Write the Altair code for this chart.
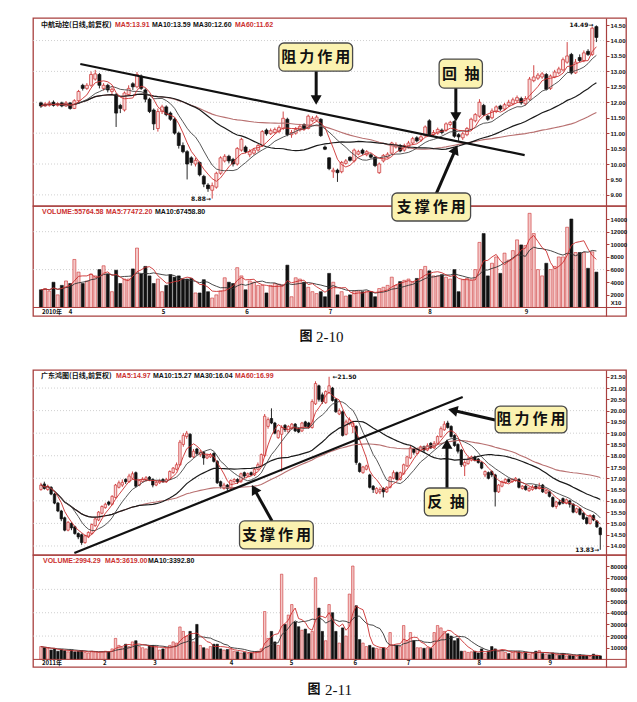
import altair as alt
import pandas as pd

FRAME = "#a8403f"
RED = "#cc3030"
UPFILL = "#f9d9d9"
BLACK = "#111111"
YEL = "#fbf2b0"
MA60C = "#b87070"
CJK = "Noto Sans CJK SC"
LAT = "Liberation Sans"

# ================= 图 2-10 中航动控 =================
open1 = [11.98,11.88,11.90,12.00,11.90,11.98,11.88,11.98,11.80,12.05,
         12.55,12.45,12.55,12.75,12.90,12.45,12.55,12.35,12.25,11.90,
         11.75,12.25,12.60,12.50,12.85,12.40,12.10,11.75,11.15,11.70,
         11.85,11.65,11.45,11.00,10.60,10.40,10.20,10.00,10.05,9.60,
         9.32,9.15,9.25,9.70,10.10,10.25,10.15,10.00,10.45,10.55,
         10.30,10.35,10.45,10.60,11.10,10.98,11.02,11.05,11.15,11.45,
         10.95,11.00,11.10,11.28,11.15,11.40,11.42,11.45,10.55,10.20,
         9.75,9.80,9.75,10.02,10.22,10.10,10.32,10.45,10.30,10.30,
         10.22,9.72,10.10,10.22,10.35,10.55,10.60,10.45,10.55,10.68,
         10.85,10.78,10.92,11.40,10.95,11.00,11.10,11.10,11.28,11.38,
         10.95,10.85,10.95,11.12,11.40,11.55,11.90,11.55,11.50,11.70,
         11.88,11.78,11.90,11.95,12.05,12.12,11.95,12.10,12.70,12.78,
         12.82,12.90,12.45,12.82,12.95,13.05,13.30,13.55,12.95,13.45,
         13.35,13.65,13.55,14.45]
close1 = [11.88,11.95,11.98,11.90,11.96,11.88,11.98,11.80,12.05,12.35,
          12.45,12.55,12.90,12.92,12.55,12.55,12.40,12.42,11.65,11.80,
          12.30,12.45,12.50,12.90,12.45,12.10,11.70,11.30,11.70,11.85,
          11.60,11.45,11.00,10.60,10.40,10.00,10.05,10.12,9.65,9.35,
          9.20,9.30,9.70,10.20,10.25,10.10,10.00,10.50,10.80,10.40,
          10.40,10.45,10.60,11.05,10.98,11.08,11.12,11.18,11.48,10.95,
          11.02,11.12,11.22,11.15,11.55,11.48,11.52,10.92,10.48,9.85,
          9.80,9.72,10.05,10.10,10.12,10.45,10.40,10.35,10.40,10.22,
          9.95,10.00,10.28,10.32,10.68,10.62,10.42,10.60,10.68,10.82,
          10.75,10.88,11.20,10.95,11.02,11.12,11.02,11.30,11.35,10.90,
          10.88,10.98,11.15,11.45,11.60,12.00,11.60,11.45,11.72,11.85,
          11.78,11.92,12.00,12.08,12.15,11.98,12.12,12.75,12.82,12.88,
          12.92,12.42,12.85,12.98,13.08,13.38,13.50,12.95,13.30,13.35,
          13.60,13.55,14.40,14.10]
high1 = [12.02,12.00,12.05,12.06,12.00,12.02,12.04,12.00,12.10,12.40,
         12.60,12.62,13.00,13.05,12.95,12.62,12.60,12.48,12.30,11.95,
         12.35,12.55,12.65,12.98,12.90,12.45,12.15,11.80,11.80,11.92,
         11.90,11.70,11.50,11.05,10.70,10.45,10.25,10.20,10.08,9.65,
         9.38,9.40,9.75,10.25,10.32,10.30,10.20,10.55,10.85,10.60,
         10.48,10.52,10.66,11.10,11.15,11.15,11.18,11.25,11.70,11.50,
         11.10,11.20,11.30,11.32,11.60,11.55,11.58,11.48,10.60,10.22,
         9.88,9.85,10.10,10.16,10.25,10.50,10.46,10.50,10.45,10.35,
         10.25,10.05,10.32,10.38,10.72,10.70,10.65,10.66,10.75,10.88,
         10.90,10.95,11.25,11.45,11.10,11.18,11.15,11.35,11.40,11.42,
         11.00,11.05,11.20,11.50,11.65,12.10,11.95,11.60,11.80,11.90,
         11.92,11.98,12.08,12.15,12.22,12.18,12.20,12.82,13.20,12.95,
         12.98,12.95,12.90,13.05,13.15,13.45,13.95,13.60,13.40,13.55,
         13.68,13.72,14.45,14.49]
low1 = [11.82,11.85,11.86,11.86,11.86,11.84,11.85,11.76,11.78,12.00,
        12.38,12.40,12.50,12.70,12.45,12.38,12.32,12.25,11.20,11.65,
        11.70,12.20,12.40,12.45,12.40,12.00,11.65,11.10,11.05,11.62,
        11.55,11.40,10.95,10.50,10.35,9.50,9.95,9.92,9.60,9.25,
        9.10,8.88,9.20,9.65,10.05,10.02,9.92,9.95,10.40,10.35,
        10.22,10.30,10.40,10.55,10.92,10.94,10.98,11.00,11.10,10.90,
        10.85,10.95,11.05,11.10,11.12,11.35,11.38,10.88,10.45,9.80,
        9.55,9.42,9.70,9.98,10.08,10.05,10.28,10.30,10.25,10.18,
        9.90,9.68,10.05,10.18,10.30,10.50,10.38,10.40,10.50,10.62,
        10.70,10.72,10.88,10.90,10.90,10.95,10.96,11.05,11.22,10.85,
        10.75,10.78,10.90,11.10,11.35,11.50,11.55,11.40,11.45,11.65,
        11.72,11.74,11.85,11.90,12.00,11.92,11.90,12.05,12.65,12.72,
        12.76,12.38,12.40,12.78,12.90,13.00,13.25,12.90,12.92,13.30,
        13.30,13.50,13.50,13.95]
vol1 = [2800,3000,2600,4000,2000,3500,4200,3800,7600,5600,
        3800,4200,5300,5000,6000,6600,5300,2500,5900,3800,
        4500,4500,6100,9400,5300,6500,5000,3800,4500,2500,
        3500,5200,4800,5000,4500,4500,4600,2300,2300,4400,
        2500,1500,2000,2600,4700,4000,3800,6300,5000,2800,
        4200,4000,3500,3500,2300,3500,3800,3700,3600,6700,
        1700,4700,4500,4000,3200,2500,2200,2500,1700,5400,
        4000,2000,2500,1800,2000,2600,2600,2500,2600,2500,
        1700,3000,3200,3500,4800,3500,4100,4300,4500,4000,
        4600,6000,6500,5800,5000,5000,5200,4800,4500,6000,
        2500,4400,4600,4300,6000,10300,11700,5000,7000,8000,
        5400,8600,7500,9000,10700,9900,9800,14900,11700,6000,
        5000,7000,6000,6500,8000,8000,12700,14000,8700,8700,
        8700,6200,8800,5600]
months1_idx = [0, 6.4, 28.7, 48.7, 68.7, 92.5, 115.6]
months1_lab = ["2010年", "4", "5", "6", "7", "8", "9"]
price1_ticks = [9.0, 9.5, 10.0, 10.5, 11.0, 11.5, 12.0, 12.5, 13.0, 13.5, 14.0, 14.5]
price1_grid = [9, 10, 11, 12, 13, 14]
vol1_ticks = [2000, 4000, 6000, 8000, 10000, 12000, 14000]
vol1_grid = [6000, 12000]
trend1_i = [9.42, 115.82]
trend1_p = [13.24, 10.29]
box1_lab = ["阻\u2009力\u2009作\u2009用", "回\u2002抽"]
box1_x0 = [56.97, 95.34]
box1_x1 = [74.62, 105.70]
box1_y0 = [13.92, 13.40]
box1_y1 = [13.01, 12.46]
box1_cx = [65.8, 100.52]
box1_cy = [13.47, 12.93]
vbox1_lab = ["支\u2009撑\u2009作\u2009用"]
vbox1_x0 = [84.04]
vbox1_x1 = [102.87]
vbox1_y0 = [18117]
vbox1_y1 = [13687]
vbox1_cx = [93.46]
vbox1_cy = [15902]
shaft1_i = [65.9, 99.34, 94.63]
shaft1_p = [13.01, 12.46, 9.03]
shaft1_i2 = [65.9, 99.34, 99.06]
shaft1_p2 = [12.14, 11.59, 10.41]
head1_i = [65.9, 99.34, 99.25]
head1_p = [12.07, 11.52, 10.47]
head1_ang = [180, 180, 24]

# ================= 图 2-11 广东鸿图 =================
open2 = [16.50,16.75,16.50,16.60,16.30,15.90,15.55,15.25,14.70,15.00,
         14.85,14.55,14.50,14.15,14.40,14.55,14.90,15.15,15.45,15.70,
         15.95,15.85,16.15,16.60,16.70,16.95,16.85,17.00,17.25,16.70,
         16.85,16.90,17.05,16.95,16.70,16.80,16.95,16.85,16.95,17.25,
         17.40,17.60,18.50,18.85,18.95,17.95,18.30,18.05,18.15,17.90,
         17.95,18.10,17.75,16.85,16.55,16.70,16.55,16.85,16.95,16.85,
         17.25,17.10,17.25,17.15,17.40,17.55,18.00,19.30,19.65,19.45,
         18.80,18.95,19.35,19.05,19.20,19.40,19.20,19.10,19.50,19.45,
         19.25,20.30,21.10,20.70,20.35,20.80,21.00,20.50,19.85,19.95,
         18.95,19.40,19.30,19.30,17.65,17.25,17.40,17.15,16.65,16.35,
         16.40,16.55,16.40,16.60,17.00,17.25,16.95,17.20,17.55,17.90,
         18.30,18.10,18.25,18.40,18.25,18.55,18.35,18.55,18.85,19.15,
         19.45,19.30,18.90,18.50,18.25,17.55,17.65,17.80,17.95,17.85,
         17.70,17.15,17.25,17.30,17.15,16.40,16.65,16.80,16.95,16.85,
         16.90,16.95,16.55,16.65,16.45,16.50,16.65,16.55,16.70,16.35,
         16.40,16.15,15.75,15.95,16.10,15.90,16.00,15.85,15.50,15.65,
         15.45,15.25,15.00,15.35,15.10,14.80]
close2 = [16.70,16.55,16.65,16.30,15.90,15.55,15.20,14.70,15.05,14.80,
          14.55,14.40,14.15,14.45,14.60,14.95,15.20,15.50,15.75,15.85,
          15.85,16.20,16.70,16.80,16.82,16.85,17.10,17.20,16.65,16.90,
          16.95,17.02,16.95,16.70,16.82,16.88,16.85,16.95,17.30,17.45,
          17.60,18.60,18.90,19.00,17.95,18.20,18.10,18.15,17.90,18.00,
          18.05,17.75,16.80,16.65,16.70,16.55,16.90,16.95,16.85,17.20,
          17.10,17.20,17.15,17.40,17.60,18.05,19.75,19.60,19.45,19.00,
          19.10,19.25,19.15,19.30,19.40,19.10,19.05,19.45,19.30,19.25,
          20.40,21.20,20.50,20.40,20.85,21.10,20.45,19.95,20.00,18.90,
          19.50,19.60,19.45,17.70,17.30,17.50,17.55,16.60,16.50,16.55,
          16.50,16.40,16.60,17.05,17.25,16.95,17.25,17.60,17.95,18.35,
          18.15,18.30,18.40,18.25,18.45,18.35,18.55,18.85,19.20,19.40,
          19.25,18.85,18.45,18.20,17.60,17.70,17.85,17.95,17.80,17.70,
          17.45,17.30,17.00,17.15,16.40,16.70,16.85,16.95,16.85,16.95,
          17.00,16.60,16.65,16.50,16.55,16.62,16.55,16.62,16.40,16.45,
          16.20,15.75,15.95,15.85,15.90,16.05,15.85,15.50,15.65,15.40,
          15.20,15.00,15.35,15.15,14.85,14.50]
high2 = [16.80,16.85,16.72,16.65,16.35,15.95,15.60,15.30,15.10,15.05,
         14.90,14.60,14.55,14.50,14.65,15.00,15.25,15.55,15.80,15.92,
         16.00,16.25,16.75,16.90,16.95,17.00,17.20,17.30,17.30,16.95,
         17.05,17.10,17.10,17.00,16.90,16.95,17.00,17.02,17.35,17.50,
         17.70,18.70,19.00,19.10,19.00,18.30,18.35,18.25,18.20,18.08,
         18.12,18.15,17.80,16.90,16.80,16.75,16.95,17.00,17.00,17.25,
         17.30,17.25,17.30,17.45,17.70,18.10,19.85,19.70,20.10,19.50,
         19.15,19.35,19.40,19.35,19.45,19.45,19.25,19.50,19.55,19.50,
         20.50,21.30,21.15,20.80,20.90,21.50,21.05,20.55,20.10,20.00,
         19.60,19.70,19.55,19.35,17.70,17.55,17.60,17.20,16.70,16.60,
         16.60,16.60,16.65,17.10,17.35,17.30,17.30,17.65,18.00,18.45,
         18.35,18.35,18.45,18.45,18.55,18.60,18.65,18.90,19.30,19.53,
         19.55,19.35,18.95,18.55,18.30,17.80,17.95,18.00,18.00,17.90,
         17.75,17.35,17.30,17.35,17.20,16.75,16.90,17.00,17.00,17.00,
         17.05,17.00,16.70,16.70,16.62,16.70,16.70,16.80,16.75,16.50,
         16.45,16.20,16.00,16.05,16.15,16.10,16.05,15.90,15.70,15.70,
         15.50,15.30,15.40,15.40,15.15,14.85]
low2 = [16.45,16.50,16.45,16.25,15.85,15.50,15.10,14.65,14.65,14.70,
        14.50,14.30,14.05,14.10,14.35,14.50,14.85,15.10,15.40,15.65,
        15.78,15.80,16.10,16.55,16.62,16.75,16.80,16.95,16.60,16.65,
        16.80,16.85,16.88,16.60,16.65,16.75,16.80,16.80,16.92,17.20,
        17.35,17.55,18.40,18.75,17.90,17.90,18.00,17.95,17.60,17.85,
        17.90,17.70,16.75,16.55,16.50,16.45,16.50,16.80,16.75,16.80,
        17.00,17.05,17.10,17.10,17.35,17.50,17.95,19.20,19.40,18.95,
        18.75,17.30,19.05,19.00,19.15,19.05,19.00,19.05,19.25,19.20,
        19.20,20.25,20.40,20.30,20.30,20.75,20.40,19.90,19.80,18.85,
        18.90,19.35,19.00,17.60,17.25,17.20,17.35,16.55,16.35,16.30,
        16.30,16.15,16.35,16.55,16.95,16.90,16.90,17.15,17.50,17.85,
        18.05,18.05,18.20,18.15,18.20,18.30,18.30,18.50,18.80,19.10,
        19.20,18.80,18.40,18.10,17.50,17.10,17.60,17.75,17.75,17.65,
        17.40,17.05,16.95,17.05,15.75,16.35,16.60,16.75,16.80,16.80,
        16.85,16.55,16.50,16.45,16.40,16.45,16.50,16.50,16.35,16.30,
        16.15,15.70,15.65,15.80,15.85,15.85,15.70,15.45,15.45,15.35,
        15.15,14.95,14.95,15.10,14.80,13.83]
vol2 = [11000,10000,9500,8000,9000,7000,8500,7500,6500,8000,
        6500,7000,7500,6000,5500,7000,6500,6000,6500,7000,
        6500,9000,18000,12000,10000,13000,11000,15000,16000,11000,
        10000,9000,12000,12000,11000,8000,9000,10000,12000,15000,
        14000,27800,24000,20000,24000,15000,30000,12000,10000,9000,
        11000,13000,13000,9000,8000,8500,9000,7000,6500,5500,
        6000,5000,5500,6500,7000,9000,41000,18000,24000,15000,
        12000,73000,30000,38000,47000,32000,28000,25000,26000,22000,
        24000,70000,44000,24000,16000,47000,40000,24000,14000,27000,
        20000,56000,80000,46000,17000,14000,11000,12000,10000,9500,
        9000,10000,9000,23000,12000,12000,11000,29000,16000,23000,
        16000,10000,10000,9500,10000,9500,23000,29000,27000,24000,
        22000,20000,16000,18000,7000,7000,6000,6500,7000,5500,
        9000,5000,7000,11000,9000,7000,8000,6000,5000,6000,
        7000,6500,5000,6000,4500,5500,7000,7500,5000,4500,
        4000,5500,4000,3500,5000,3000,3500,3000,2500,4000,
        3500,3000,2500,4500,3500,3000]
months2_idx = [0, 18, 32.8, 55.4, 73.1, 91.9, 107.6, 128.5, 149.4]
months2_lab = ["2011年", "2", "3", "4", "5", "6", "7", "8", "9"]
price2_ticks = [14.0, 14.5, 15.0, 15.5, 16.0, 16.5, 17.0, 17.5, 18.0, 18.5,
                19.0, 19.5, 20.0, 20.5, 21.0, 21.5]
price2_grid = [14, 15, 16, 17, 18, 19, 20, 21]
vol2_ticks = [10000, 20000, 30000, 40000, 50000, 60000, 70000, 80000]
vol2_grid = [20000, 40000, 60000]
trend2_i = [9.86, 124.42]
trend2_p = [13.69, 20.60]
box2_lab = ["支\u2009撑\u2009作\u2009用", "阻\u2009力\u2009作\u2009用", "反\u2002抽"]
box2_x0 = [58.58, 133.99, 113.11]
box2_x1 = [80.34, 155.16, 125.87]
box2_y0 = [15.11, 20.20, 16.57]
box2_y1 = [13.87, 19.01, 15.33]
box2_cx = [69.46, 144.58, 119.49]
box2_cy = [14.49, 19.61, 15.95]
shaft2_i = [68.16, 133.99, 119.78]
shaft2_p = [15.11, 19.58, 16.57]
shaft2_i2 = [63.21, 122.04, 119.78]
shaft2_p2 = [16.44, 19.99, 18.43]
head2_i = [62.92, 121.49, 119.78]
head2_p = [16.52, 20.01, 18.52]
head2_ang = [330, 283, 0]

W = 593


def mkdf(o, c, h, l, v):
    df = pd.DataFrame({"i": list(range(len(c))), "open": o, "close": c,
                       "high": h, "low": l, "vol": v})
    df["up"] = df["close"] >= df["open"]
    df["zero"] = 0
    for n in (5, 10, 30, 60):
        df["ma%d" % n] = df["close"].rolling(n, min_periods=1).mean()
    df["vma5"] = df["vol"].rolling(5, min_periods=1).mean()
    df["vma10"] = df["vol"].rolling(10, min_periods=1).mean()
    return df


def label(text, x, y, color=BLACK, size=7, font=LAT, weight="bold", align="left"):
    return alt.Chart(pd.DataFrame({"t": [text]})).mark_text(
        align=align, baseline="middle", font=font, fontSize=size,
        fontWeight=weight, color=color
    ).encode(x=alt.value(x), y=alt.value(y), text="t:N")


def rax(values, fmt):
    return alt.Axis(orient="right", offset=-20, values=values, format=fmt,
                    title=None, grid=False, labelFont=LAT, labelFontSize=6,
                    labelFontWeight="bold", labelColor=BLACK, tickSize=3,
                    tickColor=FRAME, domainColor=FRAME, domainWidth=1.2,
                    labelPadding=1, labelFlush=False, labelOverlap=False)


def scales(xdom, ydom, ticks, fmt):
    xsc = alt.Scale(domain=xdom, nice=False, zero=False)
    ysc = alt.Scale(domain=ydom, nice=False, zero=False)
    ax = rax(ticks, fmt)

    def X(f):
        return alt.X(f, type="quantitative", scale=xsc, axis=None)

    def Y(f):
        return alt.Y(f, type="quantitative", scale=ysc, axis=ax)
    return X, Y


def boxes_layers(X, Y, lab, x0, x1, y0, y1, cx, cy):
    d = pd.DataFrame({"lab": lab, "x0": x0, "x1": x1, "y0": y0, "y1": y1,
                      "cx": cx, "cy": cy})
    rect = alt.Chart(d).mark_rect(fill=YEL, stroke="#4a4a4a", strokeWidth=1.3,
                                  cornerRadius=5).encode(
        x=X("x0"), x2="x1", y=Y("y0"), y2="y1")
    txt = alt.Chart(d).mark_text(font=CJK, fontSize=15, fontWeight="bold",
                                 color=BLACK, baseline="middle").encode(
        x=X("cx"), y=Y("cy"), text="lab:N")
    return [rect, txt]


def arrow_layers(X, Y, si, sp, si2, sp2, hi, hp, ang):
    s = pd.DataFrame({"i": si, "p": sp, "i2": si2, "p2": sp2})
    h = pd.DataFrame({"i": hi, "p": hp, "ang": ang})
    shaft = alt.Chart(s).mark_rule(strokeWidth=3, color=BLACK).encode(
        x=X("i"), y=Y("p"), x2="i2", y2="p2")
    head = alt.Chart(h).mark_point(shape="triangle-up", filled=True, size=120,
                                   color=BLACK, opacity=1).encode(
        x=X("i"), y=Y("p"), angle=alt.Angle("ang:Q", scale=None))
    return [shaft, head]


def price_panel(df, xdom, ydom, h, ticks, grid, bw, trend_i, trend_p, extra):
    X, Y = scales(xdom, ydom, ticks, ".2f")
    up = alt.datum.up
    layers = [
        alt.Chart(pd.DataFrame({"g": grid})).mark_rule(
            color="#c4c4c4", strokeDash=[1, 2], strokeWidth=0.8).encode(
            y=Y("g"), x=alt.value(0), x2=alt.value(W - 20)),
        alt.Chart(df).mark_rule(strokeWidth=0.9).encode(
            x=X("i"), y=Y("low"), y2="high",
            color=alt.condition(up, alt.value(RED), alt.value(BLACK))),
        alt.Chart(df).mark_bar(size=bw, strokeWidth=0.7).encode(
            x=X("i"), y=Y("open"), y2="close",
            fill=alt.condition(up, alt.value(UPFILL), alt.value(BLACK)),
            stroke=alt.condition(up, alt.value(RED), alt.value(BLACK))),
        alt.Chart(df).mark_line(color=MA60C, strokeWidth=1.1).encode(x=X("i"), y=Y("ma60")),
        alt.Chart(df).mark_line(color="#1a1a1a", strokeWidth=1.2).encode(x=X("i"), y=Y("ma30")),
        alt.Chart(df).mark_line(color="#444444", strokeWidth=0.9).encode(x=X("i"), y=Y("ma10")),
        alt.Chart(df).mark_line(color=RED, strokeWidth=0.9).encode(x=X("i"), y=Y("ma5")),
        alt.Chart(pd.DataFrame({"i": trend_i, "p": trend_p})).mark_line(
            color=BLACK, strokeWidth=2.2).encode(x=X("i"), y=Y("p")),
    ]
    layers += extra(X, Y)
    return alt.layer(*layers).properties(width=W, height=h)


def volume_panel(df, xdom, vdom, h, ticks, grid, bw, m_idx, m_lab, extra):
    X, Y = scales(xdom, vdom, ticks, "d")
    up = alt.datum.up
    layers = [
        alt.Chart(pd.DataFrame({"g": grid})).mark_rule(
            color="#c4c4c4", strokeDash=[1, 2], strokeWidth=0.8).encode(
            y=Y("g"), x=alt.value(0), x2=alt.value(W - 20)),
        alt.Chart(df).mark_bar(size=bw, strokeWidth=0.6).encode(
            x=X("i"), y=Y("vol"), y2="zero",
            fill=alt.condition(up, alt.value("#f4c8c8"), alt.value(BLACK)),
            stroke=alt.condition(up, alt.value(RED), alt.value(BLACK))),
        alt.Chart(df).mark_line(color="#333333", strokeWidth=0.9).encode(x=X("i"), y=Y("vma10")),
        alt.Chart(df).mark_line(color=RED, strokeWidth=0.9).encode(x=X("i"), y=Y("vma5")),
        alt.Chart(pd.DataFrame({"z": [0]})).mark_rule(color=FRAME, strokeWidth=1).encode(
            y=Y("z"), x=alt.value(0), x2=alt.value(W)),
        alt.Chart(pd.DataFrame({"m": m_idx, "lab": m_lab})).mark_text(
            align="left", baseline="middle", dx=1, font=CJK, fontSize=6,
            fontWeight="bold", color=BLACK).encode(
            x=X("m"), y=alt.value(h - 4), text="lab:N"),
    ]
    layers += extra(X, Y)
    return alt.layer(*layers).properties(width=W, height=h)


df1 = mkdf(open1, close1, high1, low1, vol1)
df2 = mkdf(open2, close2, high2, low2, vol2)

XD1 = [-0.706, 138.889]
XD2 = [-0.870, 171.114]


def extra_p1(X, Y):
    ls = arrow_layers(X, Y, shaft1_i, shaft1_p, shaft1_i2, shaft1_p2, head1_i, head1_p, head1_ang)
    ls += boxes_layers(X, Y, box1_lab, box1_x0, box1_x1, box1_y0, box1_y1, box1_cx, box1_cy)
    ls.append(alt.Chart(pd.DataFrame({"i": [132.3], "p": [14.49], "t": ["14.49→"]})).mark_text(
        align="right", baseline="middle", font="DejaVu Sans", fontSize=6, fontWeight="bold",
        color=BLACK).encode(x=X("i"), y=Y("p"), text="t:N"))
    ls.append(alt.Chart(pd.DataFrame({"i": [40.7], "p": [8.88], "t": ["8.88→"]})).mark_text(
        align="right", baseline="middle", font="DejaVu Sans", fontSize=6, fontWeight="bold",
        color=BLACK).encode(x=X("i"), y=Y("p"), text="t:N"))
    ls += [
        label("中航动控(日线,前复权)", 8, 7, font=CJK, size=7),
        label("MA5:13.91", 82, 7, color=RED),
        label("MA10:13.59", 119, 7),
        label("MA30:12.60", 160, 7),
        label("MA60:11.62", 202, 7, color=RED),
    ]
    return ls


def extra_v1(X, Y):
    ls = boxes_layers(X, Y, vbox1_lab, vbox1_x0, vbox1_x1, vbox1_y0, vbox1_y1, vbox1_cx, vbox1_cy)
    ls += [
        label("VOLUME:55764.58", 9, 6, color=RED),
        label("MA5:77472.20", 73, 6, color=RED),
        label("MA10:67458.80", 122, 6),
        label("X10", 583, 97, size=6, align="center"),
        label("图", 273, 130, font=CJK, size=13, align="center"),
        label("2-10", 283, 131, font="Liberation Serif", size=15, weight="normal"),
    ]
    return ls


def extra_p2(X, Y):
    ls = arrow_layers(X, Y, shaft2_i, shaft2_p, shaft2_i2, shaft2_p2, head2_i, head2_p, head2_ang)
    ls += boxes_layers(X, Y, box2_lab, box2_x0, box2_x1, box2_y0, box2_y1, box2_cx, box2_cy)
    ls.append(alt.Chart(pd.DataFrame({"i": [86.0], "p": [21.50], "t": ["←21.50"]})).mark_text(
        align="left", baseline="middle", font="DejaVu Sans", fontSize=6, fontWeight="bold",
        color=BLACK).encode(x=X("i"), y=Y("p"), text="t:N"))
    ls.append(alt.Chart(pd.DataFrame({"i": [164.7], "p": [13.83], "t": ["13.83→"]})).mark_text(
        align="right", baseline="middle", font="DejaVu Sans", fontSize=6, fontWeight="bold",
        color=BLACK).encode(x=X("i"), y=Y("p"), text="t:N"))
    ls += [
        label("广东鸿图(日线,前复权)", 8, 6, font=CJK, size=7),
        label("MA5:14.97", 83, 6, color=RED),
        label("MA10:15.27", 120, 6),
        label("MA30:16.04", 161, 6),
        label("MA60:16.99", 202, 6, color=RED),
    ]
    return ls


def extra_v2(X, Y):
    return [
        label("VOLUME:2994.29", 10, 6, color=RED),
        label("MA5:3619.00", 72, 6, color=RED),
        label("MA10:3392.80", 115, 6),
        label("图", 281, 134, font=CJK, size=13, align="center"),
        label("2-11", 292, 135, font="Liberation Serif", size=15, weight="normal"),
    ]


p1 = price_panel(df1, XD1, [8.64, 14.73], 188, price1_ticks, price1_grid, 3,
                 trend1_i, trend1_p, extra_p1)
v1 = volume_panel(df1, XD1, [-1345, 16060], 110, vol1_ticks, vol1_grid, 3,
                  months1_idx, months1_lab, extra_v1)
p2 = price_panel(df2, XD2, [13.60, 21.80], 185, price2_ticks, price2_grid, 2.4,
                 trend2_i, trend2_p, extra_p2)
v2 = volume_panel(df2, XD2, [-6510, 89460], 112, vol2_ticks, vol2_grid, 2.4,
                  months2_idx, months2_lab, extra_v2)

# transparent spacer between the two figures
spacer = alt.Chart(pd.DataFrame({"a": [0]})).mark_point(opacity=0).encode(
    x=alt.value(0), y=alt.value(0)
).properties(width=W, height=54, view=alt.ViewBackground(strokeOpacity=0))

chart = alt.vconcat(p1, v1, spacer, p2, v2, spacing=0, bounds="flush").properties(
    padding={"left": 30, "top": 17, "right": 5, "bottom": 5}
).configure_view(stroke=FRAME, strokeWidth=1.3)

chart.save("out.html", embed_options={"renderer": "svg", "actions": False})
